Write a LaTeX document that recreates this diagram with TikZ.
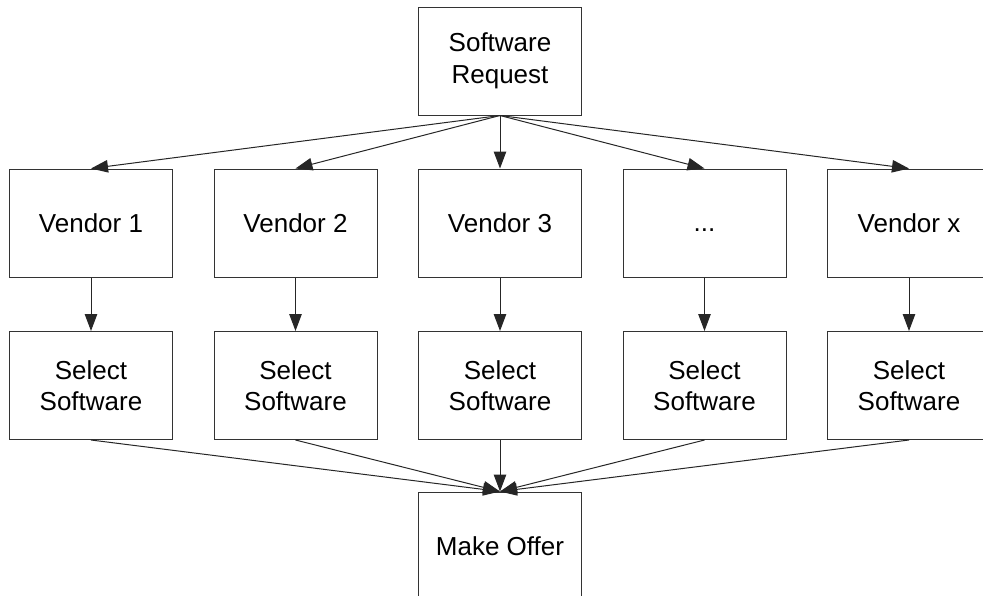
\documentclass[tikz,border=0pt]{standalone}
\usepackage{fontspec}
\setmainfont{Liberation Sans}
\usetikzlibrary{arrows.meta}
\tikzset{
  box/.style={draw=black!80, line width=1pt, minimum width=163pt, minimum height=108pt,
    inner sep=0pt, align=center, font=\fontsize{26}{31.5}\selectfont},
  link/.style={draw=black!85, line width=1pt, -{Triangle[length=17pt,width=12.5pt]}}
}
\begin{document}
\begin{tikzpicture}[x=1pt,y=-1pt]
  \useasboundingbox (0,0) rectangle (983,595);
  \clip (0,0) rectangle (983,595);
  % request at the top
  \node[box] (req) at (500,61) {Software\\Request};
  % vendor row
  \node[box] (v1) at (91,223) {Vendor 1};
  \node[box] (v2) at (295.5,223) {Vendor 2};
  \node[box] (v3) at (500,223) {Vendor 3};
  \node[box] (v4) at (704.5,223) {\vphantom{V}...};
  \node[box] (v5) at (909,223) {Vendor x};
  % selection row
  \node[box] (s1) at (91,385.5) {Select\\Software};
  \node[box] (s2) at (295.5,385.5) {Select\\Software};
  \node[box] (s3) at (500,385.5) {Select\\Software};
  \node[box] (s4) at (704.5,385.5) {Select\\Software};
  \node[box] (s5) at (909,385.5) {Select\\Software};
  % offer at the bottom
  \node[box] (offer) at (500,546) {Make Offer};
  % connectors
  \foreach \i in {1,...,5}{
    \draw[link] (req.south) -- (v\i.north);
    \draw[link] (v\i.south) -- (s\i.north);
    \draw[link] (s\i.south) -- (offer.north);
  }
\end{tikzpicture}
\end{document}
